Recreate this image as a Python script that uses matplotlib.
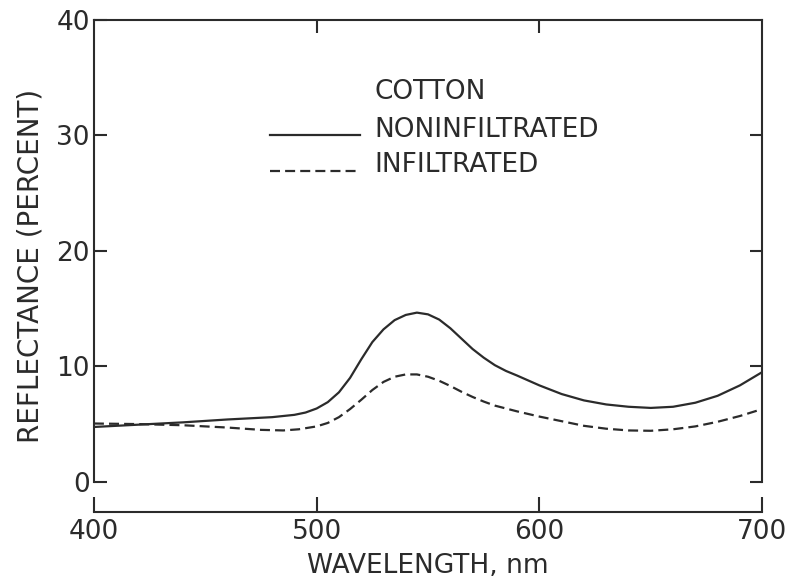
import matplotlib
matplotlib.use("Agg")
import matplotlib.pyplot as plt

# Reflectance of cotton
wl_non = [400, 420, 440, 460, 480, 490, 495, 500, 505, 510, 515, 520, 525, 530, 535,
          540, 545, 550, 555, 560, 565, 570, 575, 580, 585, 590, 600, 610, 620, 630, 640,
          650, 660, 670, 680, 690, 700]
refl_non = [4.75, 4.95, 5.15, 5.4, 5.6, 5.8, 6.0, 6.35, 6.9, 7.75, 9.0, 10.6, 12.1, 13.2, 14.0,
            14.45, 14.65, 14.5, 14.05, 13.3, 12.4, 11.5, 10.75, 10.1, 9.6, 9.2, 8.35, 7.6, 7.05,
            6.7, 6.5, 6.4, 6.5, 6.85, 7.45, 8.35, 9.5]

wl_inf = [400, 420, 440, 460, 475, 485, 492, 500, 505, 510, 515, 520, 525, 530, 535,
          540, 545, 550, 555, 560, 565, 570, 575, 580, 590, 600, 610, 620, 630, 640,
          650, 660, 670, 680, 690, 700]
refl_inf = [5.05, 5.0, 4.9, 4.7, 4.5, 4.45, 4.55, 4.8, 5.1, 5.6, 6.3, 7.1, 7.95, 8.65, 9.1,
            9.3, 9.3, 9.1, 8.75, 8.3, 7.8, 7.35, 6.95, 6.6, 6.1, 5.65, 5.25, 4.85, 4.6, 4.45,
            4.42, 4.55, 4.8, 5.2, 5.7, 6.3]

ink = "#2b2b2b"
plt.rcParams['font.family'] = ['DejaVu Sans']

fig = plt.figure(figsize=(7.89, 5.83), dpi=100)
ax = fig.add_axes([0.119, 0.122, 0.847, 0.844])

ax.plot(wl_non, refl_non, color=ink, lw=1.6, solid_joinstyle='round')
ax.plot(wl_inf, refl_inf, color=ink, lw=1.6, dashes=(4.5, 2.3))

ax.set_xlim(400, 700)
ax.set_ylim(-2.6, 40)

# drafting-style frame: side spines stop at zero, bottom axis sits lower
for s in ax.spines.values():
    s.set_color(ink)
    s.set_linewidth(1.5)
ax.spines['left'].set_bounds(0, 40)
ax.spines['right'].set_bounds(0, 40)

ax.set_xticks([400, 500, 600, 700])
ax.set_yticks([0, 10, 20, 30, 40])
ax.tick_params(axis='both', direction='in', color=ink, width=1.5, labelcolor=ink,
               labelsize=19)
ax.tick_params(axis='x', length=11, pad=5)
ax.tick_params(axis='y', length=9, pad=3)

# extra tick marks on top and right edges
top = ax.secondary_xaxis('top')
top.set_xticks([500, 600])
top.tick_params(direction='in', length=9, width=1.5, color=ink, labeltop=False)
top.spines['top'].set_visible(False)
right = ax.secondary_yaxis('right')
right.set_yticks([0, 10, 20, 30])
right.tick_params(direction='in', length=9, width=1.5, color=ink, labelright=False)
right.spines['right'].set_visible(False)

ax.set_xlabel('WAVELENGTH, nm', fontsize=19, color=ink, labelpad=6)
ax.set_ylabel('REFLECTANCE (PERCENT)', fontsize=20, color=ink)
ax.yaxis.set_label_coords(-0.074, 0.5)

# hand-drawn legend
ax.text(0.42, 0.854, 'COTTON', transform=ax.transAxes, fontsize=19, color=ink,
        va='center', ha='left')
ax.text(0.42, 0.776, 'NONINFILTRATED', transform=ax.transAxes, fontsize=19, color=ink,
        va='center', ha='left')
ax.text(0.42, 0.705, 'INFILTRATED', transform=ax.transAxes, fontsize=19, color=ink,
        va='center', ha='left')
ax.plot([0.263, 0.398], [0.766, 0.766], transform=ax.transAxes, color=ink, lw=1.6)
ax.plot([0.263, 0.398], [0.693, 0.693], transform=ax.transAxes, color=ink, lw=1.6,
        dashes=(4.5, 2.3))

fig.savefig('out.png', dpi=100)
